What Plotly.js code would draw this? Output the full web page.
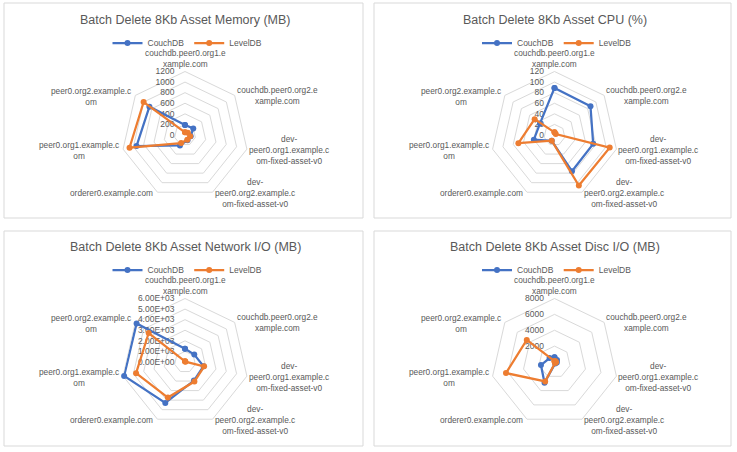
<!DOCTYPE html>
<html><head><meta charset="utf-8">
<script src="https://cdn.plot.ly/plotly-3.0.1.min.js"></script>
<style>html,body{margin:0;padding:0;background:#fff}#chart{width:737px;height:452px}</style>
</head><body><div id="chart"></div>
<script>
const categoryLabels = [
  "couchdb.peer0.org1.e<br>xample.com",
  "couchdb.peer0.org2.e<br>xample.com",
  "dev-<br>peer0.org1.example.c<br>om-fixed-asset-v0",
  "dev-<br>peer0.org2.example.c<br>om-fixed-asset-v0",
  "orderer0.example.com",
  "peer0.org1.example.c<br>om",
  "peer0.org2.example.c<br>om"
];
const seriesNames = ["CouchDB", "LevelDB"];
const chartTitles = [
  "Batch Delete 8Kb Asset Memory (MB)",
  "Batch Delete 8Kb Asset CPU (%)",
  "Batch Delete 8Kb Asset Network I/O (MB)",
  "Batch Delete 8Kb Asset Disc I/O (MB)"
];
const memoryCouchDB = [190, 200, 110, 110, 220, 940, 860];
const memoryLevelDB = [50, 70, 100, 100, 170, 1075, 1000];
const cpuCouchDB = [89, 87, 75, 76, 12, 40, 35];
const cpuLevelDB = [5, 3, 107, 106, 12, 70, 48];
const networkCouchDB = [1250, 1120, 1800, 1950, 4290, 5900, 5850];
const networkLevelDB = [60, 50, 1850, 2050, 3730, 4740, 4390];
const discCouchDB = [600, 400, 300, 200, 2900, 1750, 800];
const discLevelDB = [100, 150, 200, 150, 2710, 6270, 4470];

const memoryTicks = [0, 200, 400, 600, 800, 1000, 1200];
const memoryTickText = ["0", "200", "400", "600", "800", "1000", "1200"];
const cpuTicks = [0, 20, 40, 60, 80, 100, 120];
const cpuTickText = ["0", "20", "40", "60", "80", "100", "120"];
const networkTicks = [0, 1000, 2000, 3000, 4000, 5000, 6000];
const networkTickText = ["0.00E+00", "1.00E+03", "2.00E+03", "3.00E+03", "4.00E+03", "5.00E+03", "6.00E+03"];
const discTicks = [2000, 4000, 6000, 8000];
const discTickText = ["2000", "4000", "6000", "8000"];

const W = 737, H = 452;
const FONT = '"Liberation Sans", Arial, sans-serif';
const GRAY = '#595959';
const BLUE = '#4472C4', ORANGE = '#ED7D31';
const R = 63.5;
const centers = [[185, 135], [554.5, 135], [185, 362], [554.5, 362]];
const panels = [[4, 3, 363, 218], [374, 3, 731, 218], [4, 231, 363, 446], [374, 231, 731, 446]];

const data = [
  [memoryCouchDB, memoryLevelDB, memoryTicks, memoryTickText],
  [cpuCouchDB, cpuLevelDB, cpuTicks, cpuTickText],
  [networkCouchDB, networkLevelDB, networkTicks, networkTickText],
  [discCouchDB, discLevelDB, discTicks, discTickText]
];

const traces = [];
const layout = {
  width: W, height: H, margin: {l: 0, r: 0, t: 0, b: 0},
  paper_bgcolor: '#fff', font: {family: FONT, color: GRAY},
  shapes: [], annotations: [], showlegend: true
};

data.forEach((d, i) => {
  const pk = i === 0 ? 'polar' : 'polar' + (i + 1);
  const lk = i === 0 ? 'legend' : 'legend' + (i + 1);
  const [cx, cy] = centers[i];
  const max = d[2][d[2].length - 1];
  [d[0], d[1]].forEach((vals, s) => {
    traces.push({
      type: 'scatterpolar', mode: 'lines+markers', name: seriesNames[s],
      r: vals.concat([vals[0]]), theta: categoryLabels.concat([categoryLabels[0]]),
      subplot: pk, legend: lk,
      line: {color: s === 0 ? BLUE : ORANGE, width: 2.25},
      marker: {color: s === 0 ? BLUE : ORANGE, size: 6},
      hoverinfo: 'skip'
    });
  });
  layout[pk] = {
    domain: {x: [(cx - R) / W, (cx + R) / W], y: [(H - cy - R) / H, (H - cy + R) / H]},
    gridshape: 'linear', bgcolor: '#fff',
    angularaxis: {direction: 'clockwise', rotation: 90, showgrid: false, showline: true,
      linecolor: '#D9D9D9', linewidth: 1, ticks: '', categoryorder: 'array', categoryarray: categoryLabels,
      showticklabels: false, layer: 'below traces'},
    radialaxis: {range: [0, max], angle: 90, showline: false, ticks: 'outside', ticklen: 7,
      tickcolor: 'rgba(0,0,0,0)', tickangle: 90, layer: 'below traces',
      tickmode: 'array', tickvals: d[2], ticktext: d[3], side: 'counterclockwise',
      gridcolor: '#D9D9D9', gridwidth: 1, tickfont: {size: 8.5, color: GRAY, family: FONT}}
  };
  layout[lk] = {orientation: 'h', x: (cx + 2.5) / W, y: (H - cy + 92) / H, xanchor: 'center', yanchor: 'middle',
    font: {size: 8.5, color: GRAY, family: FONT}, bgcolor: 'rgba(0,0,0,0)', itemwidth: 30};
  const p = panels[i];
  layout.shapes.push({type: 'rect', xref: 'paper', yref: 'paper', x0: p[0] / W, x1: p[2] / W,
    y0: 1 - p[1] / H, y1: 1 - p[3] / H, line: {color: '#D9D9D9', width: 1}});
  layout.annotations.push({text: chartTitles[i], xref: 'paper', yref: 'paper', showarrow: false,
    x: cx / W, y: (H - (p[1] + 16.5)) / H, xanchor: 'center', yanchor: 'middle',
    font: {size: 12.5, color: GRAY, family: FONT}});
  // category labels placed at the polygon vertices, centred like the source
  categoryLabels.forEach((lab, k) => {
    const th = k * 2 * Math.PI / categoryLabels.length;
    const vx = cx + R * Math.sin(th), vy = cy - R * Math.cos(th);
    let ann = {text: lab, xref: 'paper', yref: 'paper', showarrow: false, align: 'center', borderpad: 0,
      font: {size: 8.3, color: GRAY, family: FONT}};
    if (Math.abs(Math.sin(th)) < 0.1) {
      Object.assign(ann, {x: vx / W, y: (H - vy + 2) / H, xanchor: 'center', yanchor: 'bottom'});
    } else if (Math.sin(th) > 0) {
      Object.assign(ann, {x: (vx + 1) / W, y: (H - vy - 0.5) / H, xanchor: 'left', yanchor: 'middle'});
    } else {
      Object.assign(ann, {x: (vx - 3) / W, y: (H - vy - 1) / H, xanchor: 'right', yanchor: 'middle'});
    }
    layout.annotations.push(ann);
  });
});

Plotly.newPlot('chart', traces, layout, {staticPlot: true});
</script></body></html>
